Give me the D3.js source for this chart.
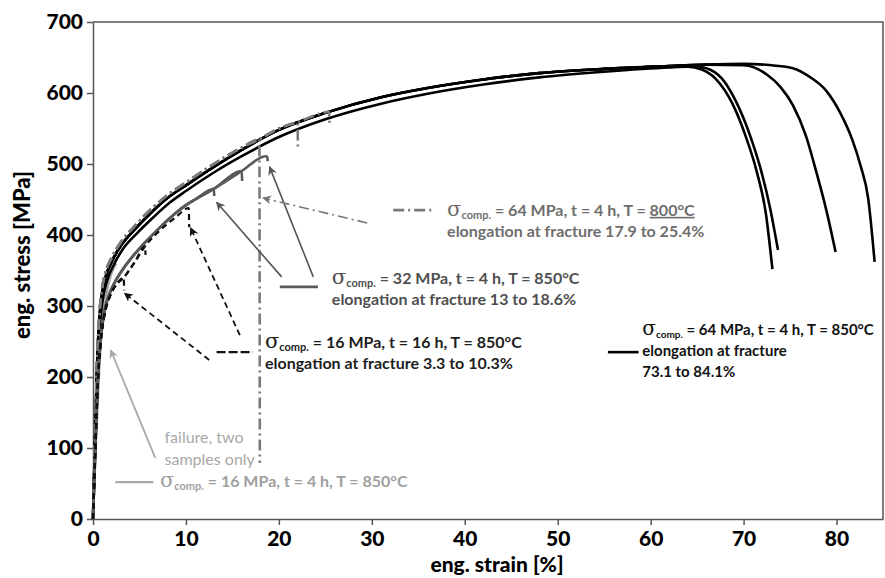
<!DOCTYPE html>
<html>
<head>
<meta charset="utf-8">
<script src="https://cdn.jsdelivr.net/npm/d3@7"></script>
<style>
  body { margin: 0; background: #fff; }
  text { font-family: Lato, "Open Sans", sans-serif; font-weight: bold; }
</style>
</head>
<body>
<svg id="chart" width="885" height="578"></svg>
<script>
const xTicks = [0, 10, 20, 30, 40, 50, 60, 70, 80];
const yTicks = [0, 100, 200, 300, 400, 500, 600, 700];

// strain [%], stress [MPa]
// sigma_comp = 64 MPa, 4 h, 850 C (black)
const riseTop = [[0, 0], [0.2, 100], [0.4, 200], [0.6, 265], [0.9, 310], [1.3, 338], [2, 362], [3, 385],
  [4.5, 408], [6.3, 432], [8, 452], [10, 470], [13, 496], [16, 520], [20, 548], [25, 572], [31, 594],
  [36, 607], [42, 619], [48, 628], [55, 634], [62, 638]];
const riseLow = [[0, 0], [0.2, 95], [0.45, 200], [0.7, 265], [1, 305], [1.5, 335], [2.2, 357], [3.2, 380],
  [4.7, 402], [6.5, 425], [8.2, 445], [10, 462], [13, 488], [16, 511], [20, 538], [25, 563], [31, 585],
  [36, 599], [42, 612], [48, 622], [55, 630], [62, 636]];
const tailA = [[64, 637], [65.5, 633], [67, 620], [68.8, 585], [70.2, 540], [71.4, 490], [72.4, 430], [73.1, 352]];
const tailB = [[64, 639], [66, 635], [67.7, 620], [69.3, 585], [70.7, 540], [71.9, 490], [72.9, 435], [73.7, 379]];
const tailC = [[66, 640], [70, 639], [72.5, 626], [74, 608], [75.3, 583], [76.7, 540], [77.8, 490], [78.9, 435], [79.9, 376]];
const tailD = [[66, 640], [70, 641], [73, 639], [75.3, 635], [77.2, 622], [78.9, 603], [80.4, 572], [81.7, 534],
  [82.6, 497], [83.4, 452], [84.1, 362]];

// sigma_comp = 64 MPa, 4 h, 800 C (grey dash-dot)
const rise800 = [[0, 0], [0.2, 105], [0.4, 205], [0.6, 270], [0.9, 318], [1.3, 345], [2, 368], [3, 390],
  [4.5, 413], [6.3, 437], [8, 456], [10, 474], [13, 500], [16, 523], [17.9, 535]];
const tail800a = [[17.95, 79]];
const tail800b = [[20, 550], [22, 558], [22.05, 520]];
const tail800c = [[20, 550], [22, 559], [25, 573], [25.4, 574], [25.45, 555]];

// sigma_comp = 32 MPa, 4 h, 850 C (dark grey)
const rise32 = [[0, 0], [0.25, 100], [0.5, 190], [0.8, 250], [1.2, 290], [1.8, 318], [2.5, 337], [3.5, 357],
  [5, 381], [7, 408], [9, 432], [10, 442], [11, 450], [13, 465]];
const tail32a = [[13.05, 455]];
const tail32b = [[16, 490], [16.05, 476]];
const tail32c = [[16, 490], [18.6, 511], [18.75, 510], [18.8, 504]];

// sigma_comp = 16 MPa, 16 h, 850 C (black dashed)
const riseDash = [[0, 0], [0.25, 95], [0.5, 185], [0.8, 245], [1.2, 285], [1.8, 313], [2.5, 330], [3.3, 340]];
const tailDashA = [[3.35, 322]];
const tailDashB = [[4.5, 362], [5.6, 384], [5.65, 372]];
const tailDashC = [[4.5, 362], [5.6, 384], [7, 404], [9, 426], [10.3, 438], [10.35, 411]];

// sigma_comp = 16 MPa, 4 h, 850 C (light grey, two samples)
const failA = [[0, 0], [0.3, 110], [0.6, 215], [0.9, 280], [1.3, 322], [1.8, 348]];
const failB = [[0, 0], [0.3, 100], [0.65, 205], [1, 275], [1.5, 320], [2.5, 360]];

const W = 885, H = 578;
const x = d3.scaleLinear().domain([0, 85]).range([93, 883]);
const y = d3.scaleLinear().domain([0, 700]).range([519, 22]);

const svg = d3.select('#chart');

const styles = {
  black: { stroke: '#000', width: 2.6, dash: null },
  dd: { stroke: '#7a7a7a', width: 2.6, dash: '11,4,2,4' },
  g32: { stroke: '#5a5a5a', width: 2.6, dash: null },
  dash: { stroke: '#111', width: 2.2, dash: '6,4' },
  light: { stroke: '#a8a8a8', width: 2.4, dash: null }
};

const series = [
  { pts: failA, s: 'light' },
  { pts: failB, s: 'light' },
  { pts: riseLow.concat(tailA), s: 'black' },
  { pts: riseTop.concat(tailB), s: 'black' },
  { pts: riseTop.concat(tailC), s: 'black' },
  { pts: riseTop.concat(tailD), s: 'black' },
  { pts: rise800.concat(tail800a), s: 'dd' },
  { pts: rise800.concat(tail800b), s: 'dd' },
  { pts: rise800.concat(tail800c), s: 'dd' },
  { pts: rise32.concat(tail32a), s: 'g32' },
  { pts: rise32.concat(tail32b), s: 'g32' },
  { pts: rise32.concat(tail32c), s: 'g32' },
  { pts: riseDash.concat(tailDashA), s: 'dash' },
  { pts: riseDash.concat(tailDashB), s: 'dash' },
  { pts: riseDash.concat(tailDashC), s: 'dash' }
];

const line = d3.line()
  .x(d => x(d[0]))
  .y(d => y(d[1]))
  .curve(d3.curveMonotoneX);

// axes
const xAxis = d3.axisBottom(x).tickValues(xTicks).tickSize(6).tickSizeOuter(0).tickPadding(6);
const yAxis = d3.axisLeft(y).tickValues(yTicks).tickSize(6).tickSizeOuter(0).tickPadding(4);

const gx = svg.append('g').attr('transform', `translate(0, ${y(0)})`).call(xAxis);
const gy = svg.append('g').attr('transform', `translate(${x(0)}, 0)`).call(yAxis);
[gx, gy].forEach(g => {
  g.selectAll('path, line').attr('stroke', '#555').attr('stroke-width', 1.5);
  g.selectAll('text').attr('fill', '#000').style('font-size', '21px').style('font-weight', 900);
});

// frame top and right
svg.append('path')
  .attr('d', `M${x(0)},${y(700)}H${x(85)}V${y(0)}`)
  .attr('fill', 'none').attr('stroke', '#555').attr('stroke-width', 1.5);

svg.append('g').selectAll('path')
  .data(series)
  .join('path')
  .attr('d', d => line(d.pts))
  .attr('fill', 'none')
  .attr('stroke', d => styles[d.s].stroke)
  .attr('stroke-width', d => styles[d.s].width)
  .attr('stroke-dasharray', d => styles[d.s].dash)
  .attr('stroke-linejoin', 'round');

// axis titles
svg.append('text')
  .attr('x', 497).attr('y', 572)
  .attr('text-anchor', 'middle').style('font-size', '21px').style('font-weight', 900)
  .text('eng. strain [%]');
svg.append('text')
  .attr('transform', `translate(21, 255) rotate(-90)`)
  .attr('text-anchor', 'middle').attr('dominant-baseline', 'central')
  .style('font-size', '22px').style('font-weight', 900)
  .text('eng. stress [MPa]');

// arrow markers
const defs = svg.append('defs');
['#555', '#111', '#777', '#a8a8a8'].forEach((c, i) => {
  defs.append('marker')
    .attr('id', 'arr' + i)
    .attr('viewBox', '0 0 10 10').attr('refX', 9).attr('refY', 5)
    .attr('markerWidth', 9).attr('markerHeight', 9).attr('markerUnits', 'userSpaceOnUse')
    .attr('orient', 'auto')
    .append('path').attr('d', 'M0,0L10,5L0,10L3,5Z').attr('fill', c);
});

// annotation arrows: [from strain, from stress, to strain, to stress]
const arrows = [
  { p: [20.3, 341, 13.3, 446], c: '#555', m: 0, dash: null, w: 1.6 },
  { p: [23.7, 341, 19.0, 496], c: '#555', m: 0, dash: null, w: 1.6 },
  { p: [12.5, 224, 3.4, 318], c: '#111', m: 1, dash: '6,4', w: 1.8 },
  { p: [15.8, 259, 10.5, 410], c: '#111', m: 1, dash: '6,4', w: 1.8 },
  { p: [29.5, 417, 18.3, 452], c: '#777', m: 2, dash: '10,4,2,4', w: 1.6 },
  { p: [6.7, 86, 1.9, 238], c: '#a8a8a8', m: 3, dash: null, w: 1.8 }
];
svg.append('g').selectAll('line')
  .data(arrows)
  .join('line')
  .attr('x1', d => x(d.p[0])).attr('y1', d => y(d.p[1]))
  .attr('x2', d => x(d.p[2])).attr('y2', d => y(d.p[3]))
  .attr('stroke', d => d.c).attr('stroke-width', d => d.w)
  .attr('stroke-dasharray', d => d.dash)
  .attr('marker-end', d => `url(#arr${d.m})`);

// legend sample lines: [strain from, strain to, stress]
const keys = [
  { p: [20.1, 24.2, 327], s: 'g32' },
  { p: [13.3, 17.2, 235], s: 'dash' },
  { p: [32.3, 36.6, 435], s: 'dd' },
  { p: [55.4, 58.7, 235], s: 'black' },
  { p: [2.4, 6.5, 52], s: 'light' }
];
svg.append('g').selectAll('line')
  .data(keys)
  .join('line')
  .attr('x1', d => x(d.p[0])).attr('x2', d => x(d.p[1]))
  .attr('y1', d => y(d.p[2])).attr('y2', d => y(d.p[2]))
  .attr('stroke', d => styles[d.s].stroke)
  .attr('stroke-width', d => styles[d.s].width)
  .attr('stroke-dasharray', d => d.s === 'dash' ? '9,3' : styles[d.s].dash);

// labels
function sigmaLabel(at, color, rest, under, more, fs = 16) {
  const t = svg.append('text')
    .attr('x', x(at[0])).attr('y', y(at[1]))
    .attr('fill', color).style('font-size', fs + 'px');
  t.append('tspan').text('σ').style('font-size', (fs + 5) + 'px').style('font-weight', 'normal')
    .style('font-family', '"DejaVu Serif", serif');
  t.append('tspan').text('comp.').style('font-size', (fs - 5) + 'px').attr('dy', 3);
  t.append('tspan').text(rest).attr('dy', -3);
  if (under) t.append('tspan').text(under).attr('text-decoration', 'underline');
  more.forEach((m, i) => {
    svg.append('text')
      .attr('x', x(at[0])).attr('y', y(at[1]) + 21 * (i + 1))
      .attr('fill', color).style('font-size', fs + 'px')
      .text(m);
  });
}

sigmaLabel([38.1, 427], '#6e6e6e', ' = 64 MPa, t = 4 h, T = ', '800°C', ['elongation at fracture 17.9 to 25.4%']);
sigmaLabel([25.7, 331], '#4f4f4f', ' = 32 MPa, t = 4 h, T = 850°C', null, ['elongation at fracture 13 to 18.6%']);
sigmaLabel([18.5, 241], '#1e1e1e', ' = 16 MPa, t = 16 h, T = 850°C', null, ['elongation at fracture 3.3 to 10.3%']);
sigmaLabel([59.1, 259], '#111', ' = 64 MPa, t = 4 h, T = 850°C', null, ['elongation at fracture', '73.1 to 84.1%'], 15);
sigmaLabel([7.2, 45], '#a0a0a0', ' = 16 MPa, t = 4 h, T = 850°C', null, []);

['failure, two', 'samples only'].forEach((s, i) => {
  svg.append('text')
    .attr('x', x(7.7)).attr('y', y(107) + 22 * i)
    .attr('fill', '#a8a8a8').style('font-size', '16px').style('font-weight', 'normal')
    .text(s);
});
</script>
</body>
</html>
